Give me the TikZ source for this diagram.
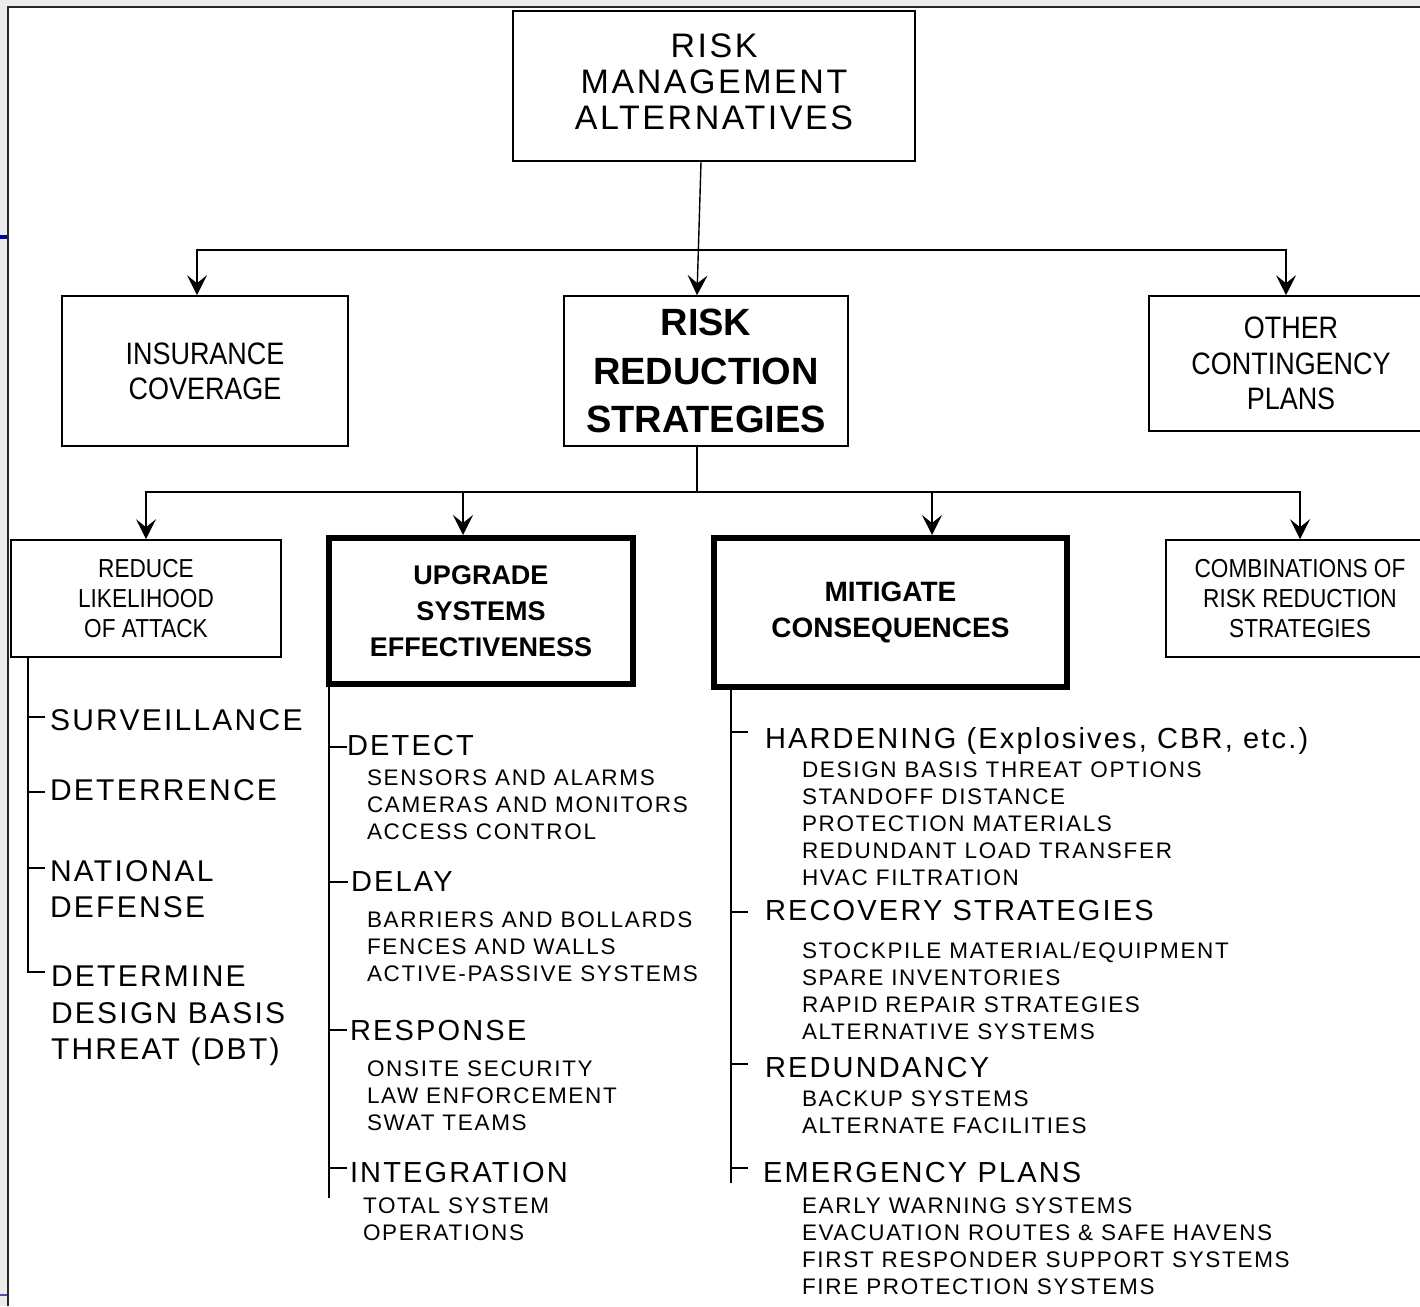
\documentclass[tikz,border=0pt]{standalone}
\usepackage{fontspec}
\setmainfont{Liberation Sans}
\newfontfamily\listfont[LetterSpace=7.5]{Liberation Sans}
\newfontfamily\narrowfont[FakeStretch=0.87]{Liberation Sans}
\usetikzlibrary{arrows.meta,calc}
\newcommand{\tick}[4]{\draw ($(#1 |- #2.north west)+(0,#3)$) -- ++(#4,0);}

\begin{document}
\begin{tikzpicture}[x=1pt,y=-1pt,line width=1.4pt,
  box/.style={draw,line width=1.6pt,align=center,inner sep=0pt},
  heavybox/.style={draw,line width=6pt,align=center,inner sep=0pt,font=\bfseries\fontsize{27}{36}\selectfont},
  arr/.style={-{Stealth[length=20pt,width=20pt,inset=8pt]}},
  listitem/.style={anchor=north west,inner sep=0pt,outer sep=0pt,align=left},
  headitem/.style={listitem,font=\listfont\fontsize{29}{36}\selectfont},
  subitem/.style={listitem,font=\listfont\fontsize{22.5}{27}\selectfont}]
  \useasboundingbox (0,0) rectangle (1420,1306);
  \fill[gray!15] (0,0) rectangle (1420,1306);
  \fill[white] (8,7) rectangle (1420,1306);
  \draw[line width=2pt,black!85] (8,1306) -- (8,7) -- (1420,7);
  \draw[line width=4pt,blue!70!black] (0,237) -- (7,237);
  \draw[line width=2.5pt,blue!40!gray] (0,1295) -- (7,1295);

  % boxes
  \node[box,minimum width=402,minimum height=150,font=\listfont\fontsize{34}{36}\selectfont] (top) at (714,86) {RISK\\MANAGEMENT\\ALTERNATIVES\rule[-8pt]{0pt}{8pt}};
  \node[box,minimum width=286,minimum height=150,font=\narrowfont\fontsize{31}{35}\selectfont] (ins) at (205,371) {INSURANCE\\COVERAGE};
  \node[box,minimum width=284,minimum height=150,font=\bfseries\fontsize{38}{48.5}\selectfont] (rrs) at (706,371) {RISK\\REDUCTION\\STRATEGIES};
  \node[box,minimum width=284,minimum height=135,font=\narrowfont\fontsize{31}{35.5}\selectfont] (other) at (1291,363.5) {OTHER\\CONTINGENCY\\PLANS};
  \node[box,minimum width=270,minimum height=117,font=\narrowfont\fontsize{26}{30}\selectfont] (reduce) at (146,598.5) {REDUCE\\LIKELIHOOD\\OF ATTACK};
  \node[heavybox,minimum width=304,minimum height=146] (upgrade) at (481,611) {UPGRADE\\SYSTEMS\\EFFECTIVENESS};
  \node[heavybox,minimum width=353,minimum height=149,font=\bfseries\fontsize{28}{36}\selectfont] (mitig) at (890.5,612.5) {MITIGATE\\CONSEQUENCES};
  \node[box,minimum width=268,minimum height=117,font=\narrowfont\fontsize{26}{30}\selectfont] (combo) at (1300,598.5) {COMBINATIONS OF\\RISK REDUCTION\\STRATEGIES};

  % tree connectors
  \coordinate (busA) at (698,250);
  \coordinate (busB) at (697,492);
  \draw[arr] ([xshift=-13pt]top.south) -- ([xshift=-9pt]rrs.north);
  \draw[arr] (busA) -| ([xshift=-8pt]ins.north);
  \draw[arr] (busA) -| ([xshift=-5pt]other.north);
  \draw ([xshift=-9pt]rrs.south) -- (busB);
  \draw[arr] (busB) -| (reduce.north);
  \draw[arr] (busB) -| ([xshift=-18pt]upgrade.north);
  \draw[arr] (busB) -| ([xshift=41.5pt]mitig.north);
  \draw[arr] (busB) -| (combo.north);

  % reduce likelihood list
  \node[listitem,font=\listfont\fontsize{30}{36}\selectfont] (surv) at (50,710) {SURVEILLANCE};
  \node[listitem,font=\listfont\fontsize{30}{36}\selectfont] (deter) at (50,780) {DETERRENCE};
  \node[listitem,font=\listfont\fontsize{30}{36}\selectfont] (natl) at (50,861) {NATIONAL\\DEFENSE};
  \node[listitem,font=\listfont\fontsize{30}{36.5}\selectfont] (detm) at (51,966) {DETERMINE\\DESIGN BASIS\\THREAT (DBT)};
  \coordinate (spL) at ([xshift=-118pt]reduce.south);
  \draw (spL) |- ($(detm.north west)+(-6,6)$);
  \tick{spL}{surv}{7}{17}
  \tick{spL}{deter}{12}{17}
  \tick{spL}{natl}{7}{17}

  % upgrade list
  \node[headitem] (detect) at (347,735) {DETECT};
  \node[subitem] (detectsub) at (367,770) {SENSORS AND ALARMS\\CAMERAS AND MONITORS\\ACCESS CONTROL};
  \node[headitem] (delay) at (351,872) {DELAY};
  \node[subitem] (delaysub) at (367,912) {BARRIERS AND BOLLARDS\\FENCES AND WALLS\\ACTIVE-PASSIVE SYSTEMS};
  \node[headitem] (resp) at (350,1020) {RESPONSE};
  \node[subitem] (respsub) at (367,1061) {ONSITE SECURITY\\LAW ENFORCEMENT\\SWAT TEAMS};
  \node[headitem] (integ) at (350,1162) {INTEGRATION};
  \node[subitem] (integsub) at (363,1198) {TOTAL SYSTEM\\OPERATIONS};
  \coordinate (spM) at ([xshift=-152pt]upgrade.south);
  \draw (spM) -- ($(spM |- integ.north west)+(0,36)$);
  \tick{spM}{detect}{12}{18}
  \tick{spM}{delay}{10}{19}
  \tick{spM}{resp}{10}{18}
  \tick{spM}{integ}{6}{18}

  % mitigate list
  \node[headitem] (hard) at (765,727) {HARDENING (Explosives, CBR, etc.)};
  \node[subitem] (hardsub) at (802,762) {DESIGN BASIS THREAT OPTIONS\\STANDOFF DISTANCE\\PROTECTION MATERIALS\\REDUNDANT LOAD TRANSFER\\HVAC FILTRATION};
  \node[headitem] (recov) at (765,900) {RECOVERY STRATEGIES};
  \node[subitem] (recovsub) at (802,942) {STOCKPILE MATERIAL/EQUIPMENT\\SPARE INVENTORIES\\RAPID REPAIR STRATEGIES\\ALTERNATIVE SYSTEMS};
  \node[headitem] (redun) at (765,1057) {REDUNDANCY};
  \node[subitem] (redunsub) at (802,1091) {BACKUP SYSTEMS\\ALTERNATE FACILITIES};
  \node[headitem] (emerg) at (763,1162) {EMERGENCY PLANS};
  \node[subitem] (emergsub) at (802,1198) {EARLY WARNING SYSTEMS\\EVACUATION ROUTES \& SAFE HAVENS\\FIRST RESPONDER SUPPORT SYSTEMS\\FIRE PROTECTION SYSTEMS};
  \coordinate (spR) at ([xshift=-159.5pt]mitig.south);
  \draw (spR) -- ($(spR |- emerg.north west)+(0,21)$);
  \tick{spR}{hard}{5}{17}
  \tick{spR}{recov}{12}{17}
  \tick{spR}{redun}{7}{17}
  \tick{spR}{emerg}{6}{17}
\end{tikzpicture}
\end{document}
